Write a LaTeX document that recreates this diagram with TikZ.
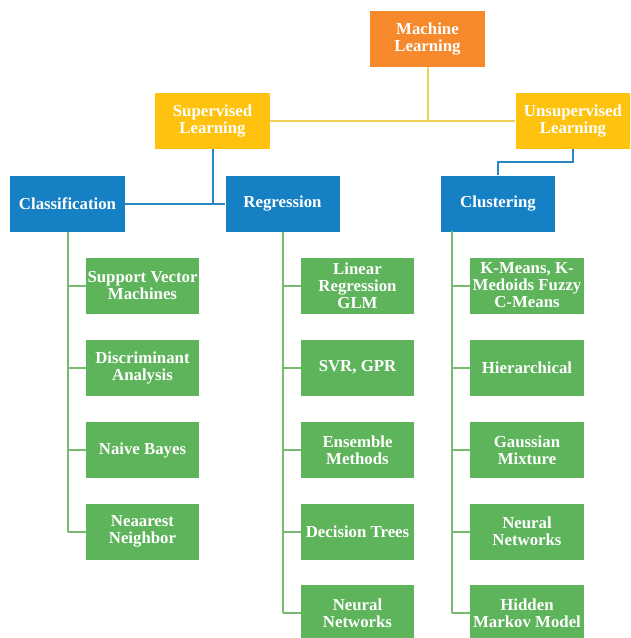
\documentclass[tikz,border=0pt]{standalone}
\usepackage{fontspec}
\setmainfont{Liberation Serif}
\definecolor{cOrange}{HTML}{F6892B}
\definecolor{cYellow}{HTML}{FFC20E}
\definecolor{cBlue}{HTML}{1580C4}
\definecolor{cGreen}{HTML}{5DB45A}
\definecolor{lYellow}{HTML}{EFD24F}
\definecolor{lBlue}{HTML}{2A87C4}
\definecolor{lGreen}{HTML}{78BA70}
\begin{document}
\begin{tikzpicture}[x=1pt,y=-1pt,
  box/.style={rectangle, inner sep=0pt, align=center, text=white,
    font=\fontsize{16.8}{17}\selectfont\bfseries, minimum height=56pt},
  mlbox/.style={box, fill=cOrange, minimum width=115pt},
  ybox/.style={box, fill=cYellow, minimum width=115pt},
  bbox/.style={box, fill=cBlue, minimum width=114pt},
  gbox/.style={box, fill=cGreen, minimum width=113pt},
  yline/.style={draw=lYellow, line width=2pt},
  bline/.style={draw=lBlue, line width=2pt},
  gline/.style={draw=lGreen, line width=2pt}]
\useasboundingbox (0,0) rectangle (630,638);
\clip (0,0) rectangle (630,638);
\fill[white] (0,0) rectangle (630,638);

\coordinate (mlj) at (427.5,121);
\coordinate (supj) at (212.5,203.5);
\coordinate (unj) at (573,162);
\coordinate (clj) at (498,162);
\coordinate (ct) at (452,231);

\node[mlbox] (ml) at (427.5,39) {Machine\\Learning};
\node[ybox] (sup) at (212.5,121) {Supervised\\Learning};
\node[ybox] (uns) at (573,121) {Unsupervised\\Learning};
\node[bbox, minimum width=115pt] (cla) at (67.5,203.5) {Classification};
\node[bbox] (reg) at (282.5,203.5) {Regression};
\node[bbox] (clu) at (498,203.5) {Clustering};

\node[gbox] (c1) at (142.5,285.5) {Support Vector\\Machines};
\node[gbox] (c2) at (142.5,367.5) {Discriminant\\Analysis};
\node[gbox] (c3) at (142.5,450) {Naive Bayes};
\node[gbox] (c4) at (142.5,531.5) {Neaarest\\Neighbor};

\node[gbox] (r1) at (357.5,285.5) {Linear\\Regression\\GLM};
\node[gbox] (r2) at (357.5,367.5) {SVR, GPR};
\node[gbox] (r3) at (357.5,450) {Ensemble\\Methods};
\node[gbox] (r4) at (357.5,531.5) {Decision Trees};
\node[gbox] (r5) at (357.5,613) {Neural\\Networks};

\node[gbox, minimum width=114pt] (k1) at (527,285.5) {K-Means, K-\\Medoids Fuzzy\\C-Means};
\node[gbox, minimum width=114pt] (k2) at (527,367.5) {Hierarchical};
\node[gbox, minimum width=114pt] (k3) at (527,450) {Gaussian\\Mixture};
\node[gbox, minimum width=114pt] (k4) at (527,531.5) {Neural\\Networks};
\node[gbox, minimum width=114pt] (k5) at (527,613) {Hidden\\Markov Model};

\path[yline] (sup.east) -- (uns.west);
\path[yline] (ml.south) -- (mlj);
\path[bline] (sup.south) -- (supj);
\path[bline] (cla.east) -- (reg.west);
\path[bline] (uns.south) -- (unj) -- (clj) -- (clu.north);

\path[gline] (cla.south) -- (cla.south |- c4.west);
\foreach \n in {c1,c2,c3,c4} \path[gline] (cla.south |- \n.west) -- (\n.west);
\path[gline] (reg.south) -- (reg.south |- r5.west);
\foreach \n in {r1,r2,r3,r4,r5} \path[gline] (reg.south |- \n.west) -- (\n.west);
\path[gline] (ct) -- (ct |- k5.west);
\foreach \n in {k1,k2,k3,k4,k5} \path[gline] (ct |- \n.west) -- (\n.west);
\end{tikzpicture}
\end{document}
